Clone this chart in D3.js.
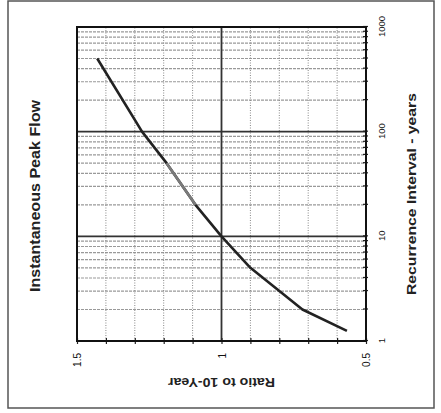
<!DOCTYPE html>
<html><head><meta charset="utf-8">
<script src="https://cdn.jsdelivr.net/npm/d3@7"></script>
<style>body{margin:0;background:#fff} svg{display:block}</style>
</head><body><svg id="c" width="441" height="413"></svg>
<script>
// Data
const recurrence = [1.25, 2, 5, 10, 20, 50, 100, 500];   // years
const ratio      = [0.566, 0.72, 0.90, 1.00, 1.09, 1.19, 1.275, 1.43]; // ratio to 10-year
const lightSegment = [20, 50];            // part of the curve drawn in lighter grey
const recurrenceLabels = [1, 10, 100, 1000];
const recurrenceMajor = [10, 100];
const ratioLabels = [0.5, 1, 1.5];
const ratioMajor = [1];
const ratioTicks = d3.range(5, 16).map(d => d / 10);
const recurrenceTicks = [1, 10, 100].flatMap(dec => d3.range(1, 10).map(k => k * dec)).concat([1000]);

const svg = d3.select("#c");
const W = 314, H = 289;           // original (unrotated) plot size
const x = d3.scaleLog().domain([1, 1000]).range([0, W]);
const y = d3.scaleLinear().domain([0.5, 1.5]).range([H, 0]);
const font = "Liberation Sans, Arial, sans-serif";

// outer border
svg.append("rect").attr("x", 8).attr("y", 1).attr("width", 426).attr("height", 407)
  .attr("fill", "none").attr("stroke", "#555").attr("stroke-width", 1.5);

// the chart is drawn unrotated and turned a quarter turn counter-clockwise
const g = svg.append("g").attr("transform", "translate(77,341) rotate(-90)");

// minor grid
g.append("g").selectAll("line").data(recurrenceTicks.filter(d => d > 1 && d < 1000 && !recurrenceMajor.includes(d)))
  .join("line").attr("x1", d => x(d)).attr("x2", d => x(d)).attr("y1", 0).attr("y2", H)
  .attr("stroke", "#999").attr("stroke-width", 1.2).attr("stroke-dasharray", "3,1");
g.append("g").selectAll("line").data(ratioTicks.filter(d => d > 0.5 && d < 1.5 && !ratioMajor.includes(d)))
  .join("line").attr("x1", 0).attr("x2", W).attr("y1", d => y(d)).attr("y2", d => y(d))
  .attr("stroke", "#888").attr("stroke-width", 1).attr("stroke-dasharray", "1,1.5");

// major grid
g.append("g").selectAll("line").data(recurrenceMajor)
  .join("line").attr("x1", d => x(d)).attr("x2", d => x(d)).attr("y1", 0).attr("y2", H)
  .attr("stroke", "#333").attr("stroke-width", 1.8);
g.append("g").selectAll("line").data(ratioMajor)
  .join("line").attr("x1", 0).attr("x2", W).attr("y1", d => y(d)).attr("y2", d => y(d))
  .attr("stroke", "#333").attr("stroke-width", 1.8);

// axes
const xAxis = g.append("g").attr("transform", `translate(0,${H})`)
  .call(d3.axisBottom(x).tickValues(recurrenceTicks).tickSize(3)
    .tickFormat(d => recurrenceLabels.includes(d) ? d3.format("d")(d) : ""));
xAxis.select(".domain").remove();
xAxis.selectAll(".tick line").attr("y1", -3).attr("y2", 2).attr("stroke", "#222").attr("stroke-width", 1.2);
xAxis.selectAll(".tick text").attr("y", 16).attr("dy", "0.35em")
  .attr("font-family", font).attr("font-size", 9.5).attr("fill", "#111");

const yAxis = g.append("g")
  .call(d3.axisLeft(y).tickValues(ratioTicks).tickSize(3)
    .tickFormat(d => ratioLabels.some(v => Math.abs(v - d) < 1e-9) ? d3.format("")(d) : ""));
yAxis.select(".domain").remove();
yAxis.selectAll(".tick line").attr("x1", -3).attr("x2", 3).attr("stroke", "#222").attr("stroke-width", 1.2);
yAxis.selectAll(".tick text").attr("x", -12).attr("dy", "0.35em")
  .attr("font-family", font).attr("font-size", 10).attr("fill", "#111");

// frame
g.append("rect").attr("width", W).attr("height", H).attr("fill", "none")
  .attr("stroke", "#111").attr("stroke-width", 2);

// curve
const pts = recurrence.map((r, i) => [r, ratio[i]]);
const line = d3.line().x(d => x(d[0])).y(d => y(d[1]));
g.append("path").attr("d", line(pts)).attr("fill", "none")
  .attr("stroke", "#222").attr("stroke-width", 2.6).attr("stroke-linejoin", "round");
g.append("path").attr("d", line(pts.filter(d => d[0] >= lightSegment[0] && d[0] <= lightSegment[1])))
  .attr("fill", "none").attr("stroke", "#7a7a7a").attr("stroke-width", 2.6);

// titles
g.append("text").attr("x", 145).attr("y", -42).attr("dy", "0.35em").attr("text-anchor", "middle")
  .attr("font-family", font).attr("font-weight", "bold").attr("font-size", 15)
  .attr("textLength", 192).attr("lengthAdjust", "spacingAndGlyphs").attr("fill", "#222")
  .text("Instantaneous Peak Flow");
g.append("text").attr("x", 147).attr("y", H + 46).attr("dy", "0.35em").attr("text-anchor", "middle")
  .attr("font-family", font).attr("font-weight", "bold").attr("font-size", 12)
  .attr("textLength", 202).attr("lengthAdjust", "spacingAndGlyphs").attr("fill", "#222")
  .text("Recurrence Interval  -  years");
g.append("text").attr("transform", `translate(-42,${y(1)}) rotate(-90)`).attr("dy", "0.35em")
  .attr("text-anchor", "middle")
  .attr("font-family", font).attr("font-weight", "bold").attr("font-size", 13)
  .attr("textLength", 107).attr("lengthAdjust", "spacingAndGlyphs").attr("fill", "#222")
  .text("Ratio to 10-Year");
</script></body></html>
